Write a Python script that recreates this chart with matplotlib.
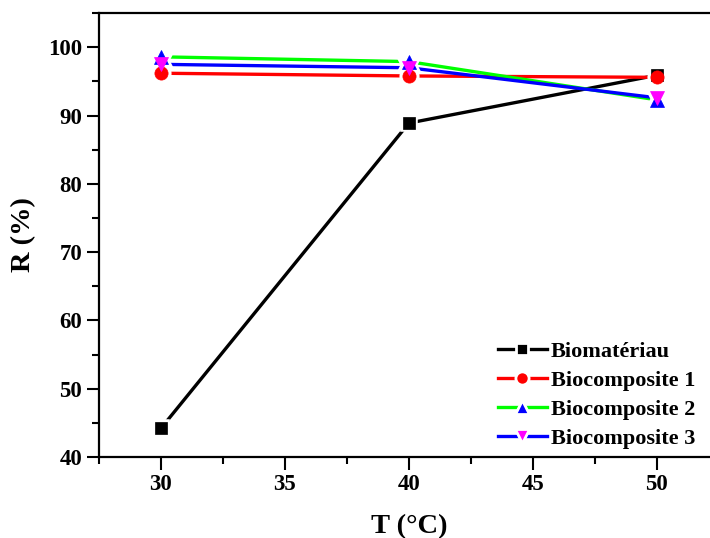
import matplotlib
matplotlib.use('Agg')
import matplotlib.pyplot as plt
from matplotlib.lines import Line2D
from matplotlib.ticker import MultipleLocator

plt.rcParams['font.family'] = ['Liberation Serif', 'DejaVu Serif']
plt.rcParams['font.weight'] = 'bold'

temp = [30, 40, 50]
noms = ['Biomatériau', 'Biocomposite 1', 'Biocomposite 2', 'Biocomposite 3']
biomat = [44.2, 88.9, 95.9]
bio1 = [96.2, 95.8, 95.6]
bio2 = [98.6, 97.9, 92.3]
bio3 = [97.5, 97.0, 92.6]

series = [biomat, bio1, bio2, bio3]
lcol = ['black', 'red', '#00ff00', 'blue']
mcol = ['black', 'red', 'blue', '#ff00ff']
marks = ['s', 'o', '^', 'v']
msize = [8, 9.5, 10, 10]

fig = plt.figure(figsize=(7.1, 5.38), dpi=100)
ax = fig.add_axes([0.1394, 0.1506, 0.873, 0.825])

for i, y in enumerate(series):
    ax.plot(temp, y, '-', color=lcol[i], lw=2.4, zorder=2)
    # halo blanc pour couper la ligne autour du marqueur (style Origin)
    ax.plot(temp, y, ls='none', marker=marks[i], ms=msize[i] + 1, mfc='white',
            mec='white', mew=4, zorder=3)
for i, y in enumerate(series):
    ax.plot(temp, y, ls='none', marker=marks[i], ms=msize[i], mfc=mcol[i],
            mec=mcol[i], mew=0.5, zorder=4)

ax.set_xlim(27.5, 52.5)
ax.set_ylim(40, 105)
ax.xaxis.set_major_locator(MultipleLocator(5))
ax.xaxis.set_minor_locator(MultipleLocator(2.5))
ax.yaxis.set_major_locator(MultipleLocator(10))
ax.yaxis.set_minor_locator(MultipleLocator(5))
ax.tick_params(which='major', direction='out', length=9, width=1.5, labelsize=16.5, pad=3)
ax.tick_params(which='minor', direction='out', length=5, width=1.5)
ax.tick_params(top=False, right=False, which='both')
for s in ax.spines.values():
    s.set_linewidth(1.6)
for lab in ax.get_xticklabels() + ax.get_yticklabels():
    lab.set_fontweight('bold')

ax.set_xlabel('T (°C)', fontsize=20.5, fontweight='bold')
ax.set_ylabel('R (%)', fontsize=20.5, fontweight='bold')
ax.xaxis.set_label_coords(0.5, -0.128)
ax.yaxis.set_label_coords(-0.102, 0.5)

handles = []
for i in range(4):
    handles.append(Line2D([], [], color=lcol[i], lw=2.4, marker=marks[i],
                          ms=msize[i], mfc=mcol[i], mec='white', mew=2))
fig.legend(handles, noms, loc='lower left', bbox_to_anchor=(0.701, 0.166),
           frameon=False, handlelength=2.2, handletextpad=0.2,
           labelspacing=0.38, borderpad=0, borderaxespad=0,
           prop={'weight': 'bold', 'size': 16})

fig.savefig('out.png', dpi=100)
